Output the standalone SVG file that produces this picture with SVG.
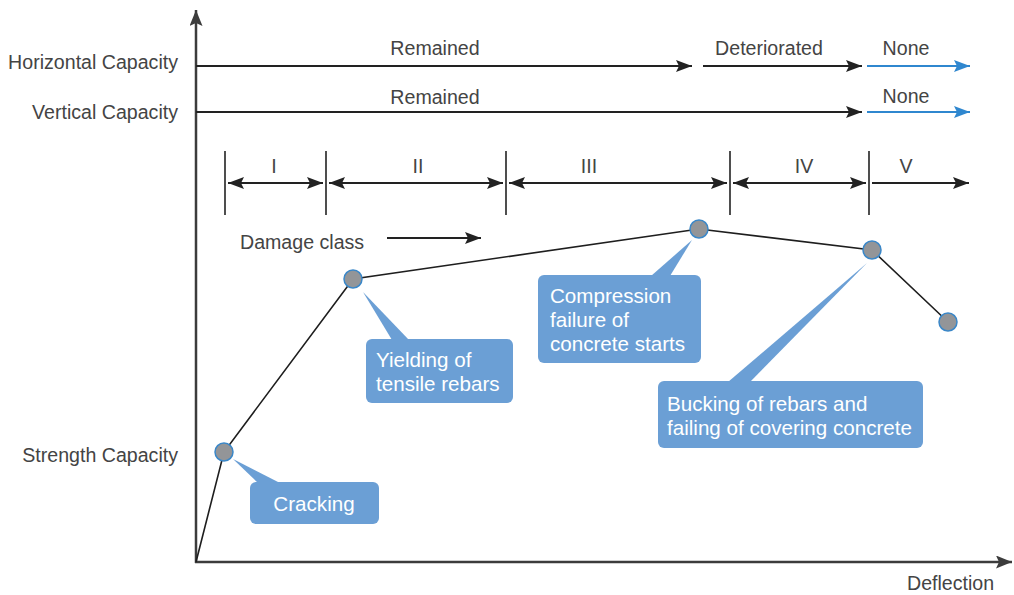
<svg xmlns="http://www.w3.org/2000/svg" width="1014" height="595" viewBox="0 0 1014 595">
  <style>
    .lbl { font-family: "Liberation Sans", Arial, sans-serif; font-size: 19.6px; fill: #444444; }
    .end { text-anchor: end; }
    .mid { text-anchor: middle; }
    .note { font-family: "Liberation Sans", Arial, sans-serif; font-size: 20.6px; fill: #ffffff; }
    .axis { stroke: #3c3c3c; stroke-width: 2.5; fill: none; }
    .arr { stroke: #222; stroke-width: 1.8; fill: none; }
    .blue { stroke: #2f87cf; stroke-width: 1.8; fill: none; }
    .tick { stroke: #222; stroke-width: 1.6; }
    .curve { stroke: #1e1e1e; stroke-width: 1.6; fill: none; }
    .box { fill: #6b9fd5; }
    .pt { fill: #939598; stroke: #3a87c8; stroke-width: 1.5; }
  </style>
  <defs>
    <marker id="ah" viewBox="0 0 16 12" refX="16" refY="6" markerWidth="16" markerHeight="12" markerUnits="userSpaceOnUse" orient="auto-start-reverse">
      <path d="M0,0 L16,6 L0,12 L3,6 Z" fill="#222"/>
    </marker>
    <marker id="ahb" viewBox="0 0 16 12" refX="16" refY="6" markerWidth="16" markerHeight="12" markerUnits="userSpaceOnUse" orient="auto">
      <path d="M0,0 L16,6 L0,12 L3,6 Z" fill="#2f87cf"/>
    </marker>
    <marker id="axh" viewBox="0 0 16 13" refX="16" refY="6.5" markerWidth="16" markerHeight="13" markerUnits="userSpaceOnUse" orient="auto">
      <path d="M0,0 L16,6.5 L0,13 L3,6.5 Z" fill="#3c3c3c"/>
    </marker>
  </defs>

  <!-- axes -->
  <g id="axes">
    <line class="axis" x1="196" y1="563" x2="196" y2="10" marker-end="url(#axh)"/>
    <line class="axis" x1="195" y1="562" x2="1012" y2="562" marker-end="url(#axh)"/>
    <text class="lbl end" x="178" y="69">Horizontal Capacity</text>
    <text class="lbl end" x="178" y="119">Vertical Capacity</text>
    <text class="lbl end" x="178" y="462">Strength Capacity</text>
    <text class="lbl" x="907" y="590">Deflection</text>
  </g>

  <!-- capacity state rows -->
  <g id="capacity-rows">
    <line class="arr" x1="196" y1="66" x2="692" y2="66" marker-end="url(#ah)"/>
    <line class="arr" x1="703" y1="66" x2="862" y2="66" marker-end="url(#ah)"/>
    <line class="blue" x1="867" y1="66" x2="970" y2="66" marker-end="url(#ahb)"/>
    <line class="arr" x1="196" y1="112" x2="862" y2="112" marker-end="url(#ah)"/>
    <line class="blue" x1="867" y1="112" x2="970" y2="112" marker-end="url(#ahb)"/>
    <text class="lbl mid" x="435" y="55">Remained</text>
    <text class="lbl mid" x="769" y="55">Deteriorated</text>
    <text class="lbl mid" x="906" y="55">None</text>
    <text class="lbl mid" x="435" y="104">Remained</text>
    <text class="lbl mid" x="906" y="103">None</text>
  </g>

  <!-- damage classes -->
  <g id="damage-classes">
    <line class="tick" x1="225" y1="151" x2="225" y2="215"/>
    <line class="tick" x1="326" y1="151" x2="326" y2="215"/>
    <line class="tick" x1="506" y1="151" x2="506" y2="215"/>
    <line class="tick" x1="730" y1="151" x2="730" y2="215"/>
    <line class="tick" x1="869" y1="151" x2="869" y2="215"/>
    <line class="arr" x1="228" y1="183" x2="323" y2="183" marker-start="url(#ah)" marker-end="url(#ah)"/>
    <line class="arr" x1="329" y1="183" x2="503" y2="183" marker-start="url(#ah)" marker-end="url(#ah)"/>
    <line class="arr" x1="509" y1="183" x2="727" y2="183" marker-start="url(#ah)" marker-end="url(#ah)"/>
    <line class="arr" x1="733" y1="183" x2="866" y2="183" marker-start="url(#ah)" marker-end="url(#ah)"/>
    <line class="arr" x1="872" y1="183" x2="969" y2="183" marker-end="url(#ah)"/>
    <text class="lbl mid" x="274" y="173">I</text>
    <text class="lbl mid" x="418" y="173">II</text>
    <text class="lbl mid" x="589" y="173">III</text>
    <text class="lbl mid" x="804" y="173">IV</text>
    <text class="lbl mid" x="906" y="173">V</text>
    <text class="lbl" x="240" y="249">Damage class</text>
    <line class="arr" x1="387" y1="238" x2="481" y2="238" marker-end="url(#ah)"/>
  </g>

  <!-- load-deflection curve -->
  <g id="connectors">
    <polyline class="curve" points="196,562 224,452 353,279 699,229 872,250 948,322"/>
  </g>

  <!-- callouts -->
  <g id="cracking">
    <path class="box" d="M233,459 L258,483 L280,483 Z"/>
    <rect class="box" x="250" y="482" width="129" height="42" rx="6"/>
    <text class="note mid" x="314" y="511">Cracking</text>
  </g>
  <g id="yielding">
    <path class="box" d="M363,292 L392,340 L409,340 Z"/>
    <rect class="box" x="366" y="339" width="147" height="64" rx="6"/>
    <text class="note" x="376" y="367">Yielding of</text>
    <text class="note" x="376" y="391">tensile rebars</text>
  </g>
  <g id="compression">
    <path class="box" d="M692,240 L651,276 L670,276 Z"/>
    <rect class="box" x="538" y="275" width="163" height="88" rx="6"/>
    <text class="note" x="550" y="303">Compression</text>
    <text class="note" x="550" y="327">failure of</text>
    <text class="note" x="550" y="351">concrete starts</text>
  </g>
  <g id="buckling">
    <path class="box" d="M867,263 L728,382 L750,382 Z"/>
    <rect class="box" x="658" y="381" width="265" height="67" rx="6"/>
    <text class="note" x="667" y="411">Bucking of rebars and</text>
    <text class="note" x="667" y="435">failing of covering concrete</text>
  </g>

  <!-- curve points -->
  <g id="points">
    <circle class="pt" cx="224" cy="452" r="9"/>
    <circle class="pt" cx="353" cy="279" r="9"/>
    <circle class="pt" cx="699" cy="229" r="9"/>
    <circle class="pt" cx="872" cy="250" r="9"/>
    <circle class="pt" cx="948" cy="322" r="9"/>
  </g>
</svg>
